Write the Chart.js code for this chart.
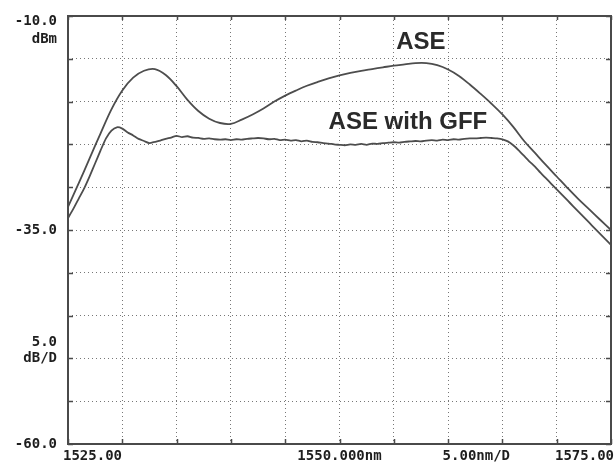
<!DOCTYPE html>
<html>
<head>
<meta charset="utf-8">
<script src="https://cdn.jsdelivr.net/npm/chart.js@4.4.0/dist/chart.umd.min.js"></script>
<style>
  html, body { margin: 0; padding: 0; background: #fff; }
  #wrap { width: 616px; height: 465px; }
</style>
</head>
<body>
<div id="wrap"><canvas id="osaChart"></canvas></div>
<script>
// --- data ---
const aseWavelengths = [
  1525, 1526, 1527, 1528, 1529, 1530, 1531, 1532, 1533, 1534,
  1535, 1536, 1537, 1538, 1539, 1540, 1541, 1542, 1543, 1544,
  1545, 1546, 1547, 1548, 1549, 1550, 1551, 1552, 1553, 1554,
  1555, 1556, 1557, 1558, 1559, 1560, 1561, 1562, 1563, 1564,
  1565, 1566, 1567, 1568, 1569, 1570, 1571, 1572, 1573, 1574, 1575
];
const aseLevels = [
  -32.3, -29.5, -26.6, -23.7, -20.9, -18.7, -17.2, -16.4, -16.2, -16.9,
  -18.2, -19.8, -21.1, -22.0, -22.5, -22.6, -22.1, -21.5, -20.8, -20.0,
  -19.3, -18.7, -18.15, -17.7, -17.3, -16.95, -16.65, -16.4, -16.2, -16.0,
  -15.8, -15.65, -15.5, -15.5, -15.75, -16.25, -17.0, -18.0, -19.1, -20.25,
  -21.5, -22.95, -24.6, -26.0, -27.4, -28.75, -30.1, -31.4, -32.6, -33.8, -35.0
];

const gffWavelengths = [
  1525, 1525.5, 1526, 1526.5, 1527, 1527.5, 1528, 1528.5, 1529, 1529.5,
  1530, 1530.5, 1531, 1531.5, 1532, 1532.5, 1533, 1533.5, 1534, 1534.5,
  1535, 1535.5, 1536, 1536.5, 1537, 1537.5, 1538, 1538.5, 1539, 1539.5,
  1540, 1540.5, 1541, 1541.5, 1542, 1542.5, 1543, 1543.5, 1544, 1544.5,
  1545, 1545.5, 1546, 1546.5, 1547, 1547.5, 1548, 1548.5, 1549, 1549.5,
  1550, 1550.5, 1551, 1551.5, 1552, 1552.5, 1553, 1553.5, 1554, 1554.5,
  1555, 1555.5, 1556, 1556.5, 1557, 1557.5, 1558, 1558.5, 1559, 1559.5,
  1560, 1560.5, 1561, 1561.5, 1562, 1562.5, 1563, 1563.5, 1564, 1564.5,
  1565, 1565.5, 1566, 1566.5, 1567, 1567.5, 1568, 1568.5, 1569, 1569.5,
  1570, 1570.5, 1571, 1571.5, 1572, 1572.5, 1573, 1573.5, 1574, 1574.5, 1575
];
const gffLevels = [
  -33.6, -32.5, -31.3, -30.1, -28.7, -27.2, -25.7, -24.3, -23.4, -23.0,
  -23.15, -23.6, -23.95, -24.35, -24.6, -24.85, -24.7, -24.55, -24.35, -24.2,
  -24.0, -24.15, -24.05, -24.2, -24.25, -24.35, -24.3, -24.4, -24.45, -24.4,
  -24.5, -24.4, -24.45, -24.35, -24.3, -24.25, -24.3, -24.4, -24.35, -24.5,
  -24.45, -24.55, -24.5, -24.65, -24.55, -24.7, -24.75, -24.85, -24.9, -25.0,
  -25.05, -25.1, -25.0, -25.05, -24.95, -25.05, -24.9, -24.95, -24.85, -24.8,
  -24.75, -24.8, -24.7, -24.65, -24.6, -24.65, -24.55, -24.5, -24.55, -24.45,
  -24.5, -24.4, -24.45, -24.35, -24.3, -24.3, -24.25, -24.2, -24.25, -24.3,
  -24.4, -24.65, -25.1, -25.7, -26.35, -27.0, -27.6, -28.3, -28.95, -29.6,
  -30.25, -30.9, -31.55, -32.2, -32.85, -33.5, -34.15, -34.8, -35.45, -36.1, -36.75
];

// axis text as the instrument prints it
const yLabelValues = [-10, -35, -50, -60];
const yLabelText = [['-10.0', 'dBm'], ['-35.0'], ['5.0', 'dB/D'], ['-60.0']];
const xLabelValues = [1525, 1550, 1562.6, 1575];
const xLabelText = ['1525.00', '1550.000nm', '5.00nm/D', '1575.00'];

// curve names written inside the plot
const noteText = ['ASE', 'ASE with GFF'];
const noteX = [1557.5, 1556.3];
const noteY = [-13.1, -22.4];

function toPoints(xs, ys) {
  return xs.map((v, i) => ({ x: v, y: ys[i] }));
}

// frame, inward ticks, instrument labels and curve names
const osaDecor = {
  id: 'osaDecor',
  afterDraw(chart) {
    const ctx = chart.ctx;
    const a = chart.chartArea;
    const x = chart.scales.x;
    const y = chart.scales.y;
    ctx.save();

    ctx.strokeStyle = '#4a4a4a';
    ctx.lineWidth = 1.5;
    y.ticks.forEach(t => {
      const py = Math.round(y.getPixelForValue(t.value)) + 0.5;
      ctx.beginPath();
      ctx.moveTo(a.left, py); ctx.lineTo(a.left + 5, py);
      ctx.moveTo(a.right - 5, py); ctx.lineTo(a.right, py);
      ctx.stroke();
    });
    x.ticks.forEach(t => {
      const px = Math.round(x.getPixelForValue(t.value)) + 0.5;
      ctx.beginPath();
      ctx.moveTo(px, a.bottom - 5); ctx.lineTo(px, a.bottom);
      ctx.moveTo(px, a.top); ctx.lineTo(px, a.top + 4);
      ctx.stroke();
    });

    ctx.lineWidth = 2;
    ctx.strokeRect(a.left, a.top, a.right - a.left, a.bottom - a.top);

    ctx.fillStyle = '#1e1e1e';
    ctx.font = 'bold 14px "DejaVu Sans Mono"';
    ctx.textBaseline = 'middle';
    ctx.textAlign = 'right';
    yLabelValues.forEach((v, i) => {
      const py = y.getPixelForValue(v);
      const lines = yLabelText[i];
      lines.forEach((s, k) => {
        let ly;
        if (v === y.max) ly = py + 5 + k * 18;
        else ly = py - (lines.length - 1 - k) * 16;
        ctx.fillText(s, a.left - 11, ly);
      });
    });

    xLabelValues.forEach((v, i) => {
      let px = x.getPixelForValue(v);
      if (i === 0) { ctx.textAlign = 'left'; px -= 5; }
      else if (i === xLabelValues.length - 1) { ctx.textAlign = 'right'; px += 3; }
      else ctx.textAlign = 'center';
      ctx.fillText(xLabelText[i], px, a.bottom + 12);
    });

    ctx.fillStyle = '#2a2a2a';
    ctx.font = 'bold 24px "Liberation Sans"';
    ctx.textAlign = 'center';
    noteText.forEach((s, i) => {
      ctx.fillText(s, x.getPixelForValue(noteX[i]), y.getPixelForValue(noteY[i]));
    });

    ctx.restore();
  }
};

const ctxOsa = document.getElementById('osaChart').getContext('2d');

new Chart(ctxOsa, {
  type: 'line',
  data: {
    datasets: [
      {
        label: 'ASE',
        data: toPoints(aseWavelengths, aseLevels),
        borderColor: '#4d4d4d',
        borderWidth: 1.8,
        pointRadius: 0,
        tension: 0.35,
        fill: false
      },
      {
        label: 'ASE with GFF',
        data: toPoints(gffWavelengths, gffLevels),
        borderColor: '#4d4d4d',
        borderWidth: 1.8,
        pointRadius: 0,
        tension: 0.2,
        fill: false
      }
    ]
  },
  options: {
    responsive: true,
    maintainAspectRatio: false,
    animation: false,
    layout: { padding: { left: 68, top: 16, right: 5, bottom: 21 } },
    plugins: {
      legend: { display: false },
      tooltip: { enabled: false }
    },
    scales: {
      x: {
        type: 'linear',
        min: 1525,
        max: 1575,
        ticks: { stepSize: 5, display: false },
        grid: { color: '#777', lineWidth: 1, drawTicks: false },
        border: { display: false, dash: [1, 3] }
      },
      y: {
        min: -60,
        max: -10,
        ticks: { stepSize: 5, display: false },
        grid: { color: '#777', lineWidth: 1, drawTicks: false },
        border: { display: false, dash: [1, 3] }
      }
    }
  },
  plugins: [osaDecor]
});
</script>
</body>
</html>
